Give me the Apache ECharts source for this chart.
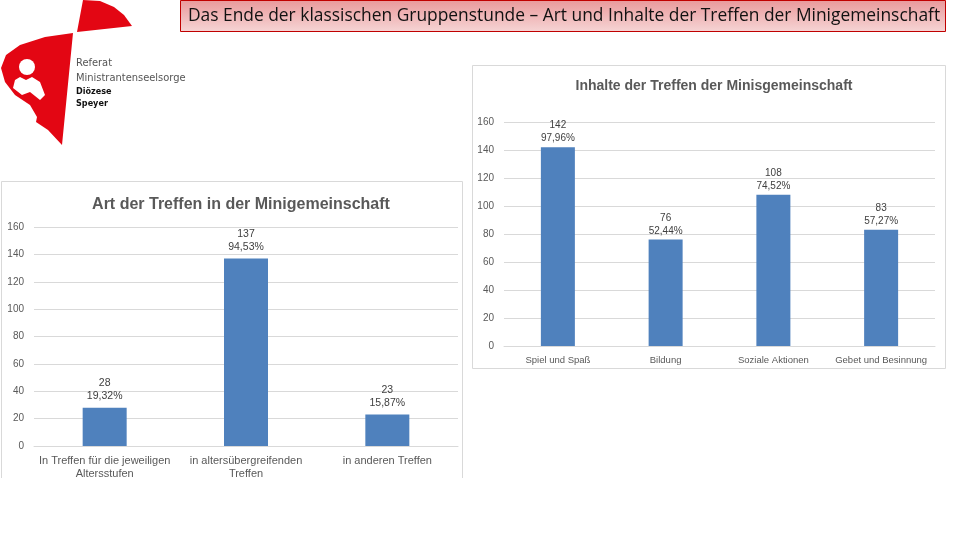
<!DOCTYPE html>
<html><head><meta charset="utf-8">
<script src="https://cdn.jsdelivr.net/npm/echarts@6/dist/echarts.min.js"></script>
<style>html,body{margin:0;padding:0;background:#fff}#c{width:960px;height:540px}</style>
</head><body><div id="c"></div>
<script>
const artCategories = ["In Treffen für die jeweiligen\nAltersstufen", "in altersübergreifenden\nTreffen", "in anderen Treffen"];
const artValues = [28, 137, 23];
const artPercents = ["19,32%", "94,53%", "15,87%"];
const inhaltCategories = ["Spiel und Spaß", "Bildung", "Soziale Aktionen", "Gebet und Besinnung"];
const inhaltValues = [142, 76, 108, 83];
const inhaltPercents = ["97,96%", "52,44%", "74,52%", "57,27%"];
const yTicks = {min: 0, max: 160, interval: 20};

const chart = echarts.init(document.getElementById('c'));
const font = 'Liberation Sans, Arial, sans-serif';
function yAxis(gi){return {type:'value', gridIndex: gi, min: yTicks.min, max: yTicks.max, interval: yTicks.interval,
  axisLabel: {color: '#595959', fontSize: 10, fontFamily: font, margin: 10}, axisLine:{show:false}, axisTick:{show:false},
  splitLine:{lineStyle:{color:'#d9d9d9', width:1}}};}
function xAxis(gi, cats, fs){return {type:'category', gridIndex: gi, data: cats,
  axisLabel: {color: '#595959', fontSize: fs, fontFamily: font, lineHeight: 13, margin: 8, interval: 0},
  axisLine:{lineStyle:{color:'#d9d9d9'}}, axisTick:{show:false}};}
function labelFor(pcts, fs, dist){return {show:true, position:'top', distance:dist, color:'#404040', fontSize:fs, fontFamily:font, lineHeight:13,
  formatter: p => p.value + '\n' + pcts[p.dataIndex]};}

chart.setOption({
  backgroundColor: '#fff',
  animation: false,
  title: [
    {text: 'Art der Treffen in der Minigemeinschaft', left: 236, top: 192, textAlign: 'center',
     textStyle:{color:'#595959', fontSize:16, fontWeight:'bold', fontFamily:font}},
    {text: 'Inhalte der Treffen der Minisgemeinschaft', left: 709, top: 74, textAlign: 'center',
     textStyle:{color:'#595959', fontSize:14, fontWeight:'bold', fontFamily:font}}
  ],
  grid: [
    {left: 34, right: 502, top: 227, bottom: 94},
    {left: 504, right: 25, top: 122, bottom: 194}
  ],
  xAxis: [xAxis(0, artCategories, 11), xAxis(1, inhaltCategories, 9.5)],
  yAxis: [yAxis(0), yAxis(1)],
  series: [
    {type:'bar', xAxisIndex:0, yAxisIndex:0, data: artValues, barWidth: 44, itemStyle:{color:'#4f81bd'}, label: labelFor(artPercents, 10.5, 5)},
    {type:'bar', xAxisIndex:1, yAxisIndex:1, data: inhaltValues, barWidth: 34, itemStyle:{color:'#4f81bd'}, label: labelFor(inhaltPercents, 10, 2)}
  ],
  graphic: [
    {type:'rect', shape:{x:1.5, y:181.5, width:461, height:310}, style:{fill:'none', stroke:'#d9d9d9', lineWidth:1}, z:0},
    {type:'rect', shape:{x:472.5, y:65.5, width:473, height:303}, style:{fill:'none', stroke:'#d9d9d9', lineWidth:1}, z:0},
    {type:'rect', shape:{x:0, y:478, width:470, height:62}, style:{fill:'#fff'}, z:100},
    {type:'rect', shape:{x:180.5, y:0.5, width:765, height:31}, z:50,
     style:{stroke:'#c00000', lineWidth:1, fill:{type:'linear', x:0, y:0, x2:0, y2:1,
       colorStops:[{offset:0, color:'#e9999b'},{offset:1, color:'#f6d5d5'}]}}},
    {type:'text', x:564, y:16, z:51, style:{text:'Das Ende der klassischen Gruppenstunde – Art und Inhalte der Treffen der Minigemeinschaft',
      fill:'#111', fontSize:17.4, fontFamily:'Open Sans, Noto Sans, sans-serif', align:'center', verticalAlign:'middle'}},
    {type:'polygon', z:20, shape:{points:[[83,0],[100,1],[114,7],[124,15],[132,26],[77,32]]}, style:{fill:'#e30613'}},
    {type:'polygon', z:20, shape:{points:[[73,33],[62,145],[48,130],[36,122],[37,117],[30,105],[15,95],[5,82],[1,68],[6,55],[20,45],[45,37]]}, style:{fill:'#e30613'}},
    {type:'circle', z:21, shape:{cx:27, cy:67, r:8}, style:{fill:'#fff'}},
    {type:'polygon', z:21, shape:{points:[[15,80],[20,77],[26,80],[32,77],[40,82],[45,95],[40,100],[30,92],[22,95],[13,88]]}, style:{fill:'#fff'}},
    {type:'text', x:76, y:63, z:20, style:{text:'Referat', fill:'#555', fontSize:11, fontFamily:'Liberation Sans Narrow, DejaVu Sans Condensed, sans-serif', verticalAlign:'middle'}},
    {type:'text', x:76, y:78, z:20, style:{text:'Ministrantenseelsorge', fill:'#555', fontSize:11, fontFamily:'Liberation Sans Narrow, DejaVu Sans Condensed, sans-serif', verticalAlign:'middle'}},
    {type:'text', x:76, y:92, z:20, style:{text:'Diözese', fill:'#111', fontSize:9, fontWeight:'bold', fontFamily:'Liberation Sans Narrow, DejaVu Sans Condensed, sans-serif', verticalAlign:'middle'}},
    {type:'text', x:76, y:104, z:20, style:{text:'Speyer', fill:'#111', fontSize:9, fontWeight:'bold', fontFamily:'Liberation Sans Narrow, DejaVu Sans Condensed, sans-serif', verticalAlign:'middle'}}
  ]
});
</script></body></html>
